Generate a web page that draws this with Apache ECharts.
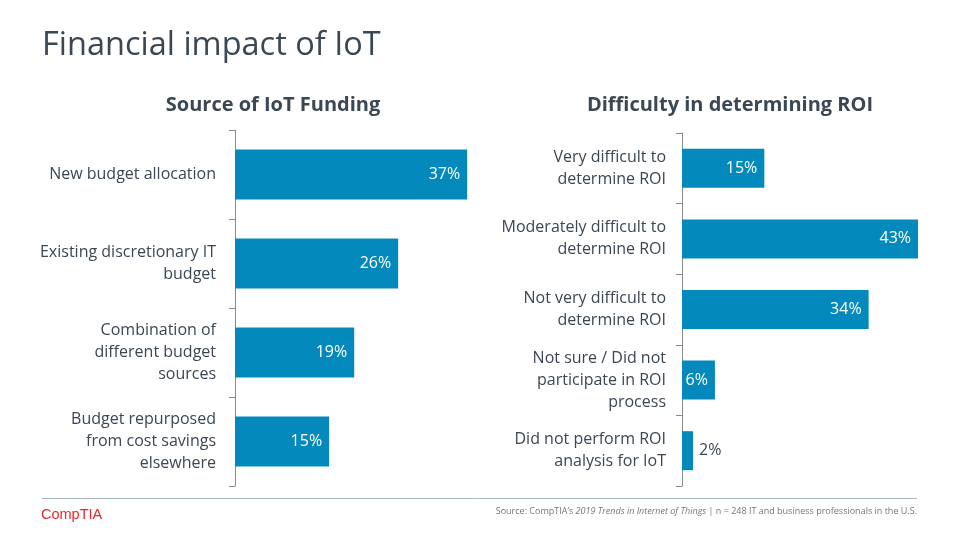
<!DOCTYPE html>
<html>
<head>
<meta charset="utf-8">
<script src="https://cdn.jsdelivr.net/npm/echarts@6/dist/echarts.min.js"></script>
<style>html,body{margin:0;padding:0;background:#fff}#c{width:960px;height:540px}</style>
</head>
<body>
<div id="c"></div>
<script>
const fundingCategories = [
  'New budget allocation',
  'Existing discretionary IT\nbudget',
  'Combination of\ndifferent budget\nsources',
  'Budget repurposed\nfrom cost savings\nelsewhere'
];
const fundingValues = [37, 26, 19, 15];

const roiCategories = [
  'Very difficult to\ndetermine ROI',
  'Moderately difficult to\ndetermine ROI',
  'Not very difficult to\ndetermine ROI',
  'Not sure / Did not\nparticipate in ROI\nprocess',
  'Did not perform ROI\nanalysis for IoT'
];
const roiValues = [15, 43, 34, 6, 2];

const FONT = '"Open Sans", "Noto Sans", sans-serif';
const TEXT = '#3b4753';
const BAR = '#0389bb';
const AXIS = '#8a8a8a';

function barData(vals) {
  return vals.map(v => v < 4 ? {
    value: v,
    label: { position: 'right', color: TEXT, distance: 6 }
  } : v);
}

const chart = echarts.init(document.getElementById('c'), null, { renderer: 'canvas' });
chart.setOption({
  animation: false,
  backgroundColor: '#fff',
  title: [
    { text: 'Financial impact of IoT', left: 37, top: 24,
      textStyle: { fontFamily: FONT, fontSize: 32.5, fontWeight: 'normal', color: TEXT } },
    { text: 'Source of IoT Funding', left: 268, top: 90, textAlign: 'center',
      textStyle: { fontFamily: FONT, fontSize: 20, fontWeight: 'bold', color: TEXT } },
    { text: 'Difficulty in determining ROI', left: 725, top: 90, textAlign: 'center',
      textStyle: { fontFamily: FONT, fontSize: 20, fontWeight: 'bold', color: TEXT } }
  ],
  grid: [
    { left: 235, top: 130, width: 251, height: 356 },
    { left: 682, top: 133, width: 247, height: 353 }
  ],
  xAxis: [
    { gridIndex: 0, type: 'value', min: 0, max: 40, show: false },
    { gridIndex: 1, type: 'value', min: 0, max: 45, show: false }
  ],
  yAxis: [
    { gridIndex: 0, type: 'category', inverse: true, data: fundingCategories,
      axisLine: { lineStyle: { color: AXIS, width: 1 } },
      axisTick: { show: true, length: 6, lineStyle: { color: AXIS } },
      axisLabel: { fontFamily: FONT, fontSize: 16, color: TEXT, margin: 19, lineHeight: 22, align: 'right' } },
    { gridIndex: 1, type: 'category', inverse: true, data: roiCategories,
      axisLine: { lineStyle: { color: AXIS, width: 1 } },
      axisTick: { show: true, length: 6, lineStyle: { color: AXIS } },
      axisLabel: { fontFamily: FONT, fontSize: 16, color: TEXT, margin: 16, lineHeight: 22, align: 'right' } }
  ],
  series: [
    { type: 'bar', xAxisIndex: 0, yAxisIndex: 0, data: barData(fundingValues), barWidth: 50,
      itemStyle: { color: BAR },
      label: { show: true, position: 'insideRight', distance: 7, color: '#fff',
        fontFamily: FONT, fontSize: 16, formatter: '{c}%' } },
    { type: 'bar', xAxisIndex: 1, yAxisIndex: 1, data: barData(roiValues), barWidth: 39,
      itemStyle: { color: BAR },
      label: { show: true, position: 'insideRight', distance: 7, color: '#fff',
        fontFamily: FONT, fontSize: 16, formatter: '{c}%' } }
  ],
  graphic: [
    { type: 'line', shape: { x1: 42, y1: 498.5, x2: 917, y2: 498.5 },
      style: { stroke: '#a9b4be', lineWidth: 1 } },
    { type: 'text', left: 41, top: 507,
      style: { text: 'CompTIA', fill: '#e8262d', font: '14.5px "Liberation Sans", Arial, sans-serif' } },
    { type: 'text', right: 43, top: 507,
      style: {
        text: '{n|Source: CompTIA\u2019s }{i|2019 Trends in Internet of Things}{n| | n = 248 IT and business professionals in the U.S.}',
        rich: {
          n: { fontFamily: FONT, fontSize: 9, fill: '#767676', fontStyle: 'normal' },
          i: { fontFamily: FONT, fontSize: 9, fill: '#767676', fontStyle: 'italic' }
        }
      } }
  ]
});
</script>
</body>
</html>
